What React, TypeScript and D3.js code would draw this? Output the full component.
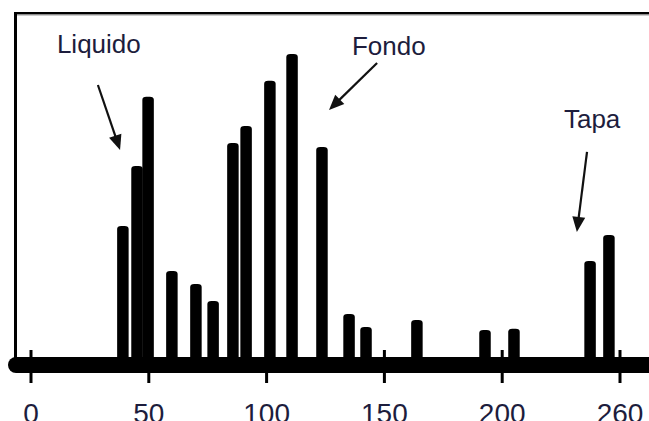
import React from "react";
import * as d3 from "d3";

// peak positions (x units) and heights (relative intensity)
const peakPositions = [39, 45, 49.7, 59.8, 70, 77.3, 85.7, 91.3, 101.4, 110.8, 123.5, 135, 142.2, 163.8, 192.7, 205, 237.3, 245.3];
const peakHeights = [43.4, 62.2, 83.8, 29.4, 25.3, 20, 69.4, 74.7, 88.8, 97.2, 68.1, 15.9, 11.9, 14.1, 10.9, 11.3, 32.5, 40.6];

const tickValues = [0, 50, 100, 150, 200, 250];
const tickLabels = ["0", "50", "100", "150", "200", "260"];

// annotations in data units: label anchor, arrow start, arrow tip
const noteLabels = ["Liquido", "Fondo", "Tapa"];
const noteText = [[11, 97.5], [136.2, 96.9], [226.2, 74.1]];
const noteFrom = [[28.4, 87.5], [146.9, 94.4], [236, 66.6]];
const noteTo = [[37.8, 67.2], [126.5, 79.7], [231.7, 41.6]];

const width = 649;
const height = 421;

export default function App() {
  const x = d3.scaleLinear().domain([0, 250]).range([31, 620]);
  const y = d3.scaleLinear().domain([0, 100]).range([365, 45]);
  const barW = 11.5;
  const axisY = y(0);
  const textColor = "#1d1d3d";

  function arrowHead(from: number[], to: number[]) {
    const x1 = x(from[0]), y1 = y(from[1]);
    const x2 = x(to[0]), y2 = y(to[1]);
    const a = Math.atan2(y2 - y1, x2 - x1);
    const len = 15, half = 6.5;
    const bx = x2 - len * Math.cos(a), by = y2 - len * Math.sin(a);
    const px = -Math.sin(a) * half, py = Math.cos(a) * half;
    return {
      line: [bx + 2 * Math.cos(a), by + 2 * Math.sin(a)],
      pts: `${x2},${y2} ${bx + px},${by + py} ${bx - px},${by - py}`,
    };
  }

  return (
    <svg
      width={width}
      height={height}
      style={{ position: "absolute", left: 0, top: 0, background: "#fff" }}
      fontFamily="Liberation Sans, Arial, sans-serif"
    >
      {/* frame */}
      <rect x={14} y={12} width={width - 14} height={2.5} fill="#000" />
      <rect x={14} y={14.5} width={width - 14} height={1} fill="#999" />
      <rect x={14} y={12} width={3} height={axisY - 18} fill="#000" />

      {/* bars */}
      {peakPositions.map((p, i) => (
        <rect
          key={i}
          x={x(p) - barW / 2}
          y={y(peakHeights[i])}
          width={barW}
          height={axisY - y(peakHeights[i])}
          rx={4}
          ry={3}
          fill="#000"
        />
      ))}

      {/* axis */}
      <line x1={16} x2={width + 10} y1={axisY} y2={axisY} stroke="#000" strokeWidth={16} strokeLinecap="round" />
      {tickValues.map((t, i) => (
        <g key={t}>
          <line x1={x(t)} x2={x(t)} y1={axisY - 15} y2={axisY + 18} stroke="#000" strokeWidth={3} />
          <text x={x(t)} y={423} textAnchor="middle" fontSize={28} fill={textColor}>
            {tickLabels[i]}
          </text>
        </g>
      ))}

      {/* annotations */}
      {noteLabels.map((label, i) => {
        const h = arrowHead(noteFrom[i], noteTo[i]);
        return (
          <g key={label}>
            <text x={x(noteText[i][0])} y={y(noteText[i][1])} fontSize={26} fill={textColor}>
              {label}
            </text>
            <line
              x1={x(noteFrom[i][0])}
              y1={y(noteFrom[i][1])}
              x2={h.line[0]}
              y2={h.line[1]}
              stroke="#111"
              strokeWidth={2.2}
            />
            <polygon points={h.pts} fill="#111" />
          </g>
        );
      })}
    </svg>
  );
}
